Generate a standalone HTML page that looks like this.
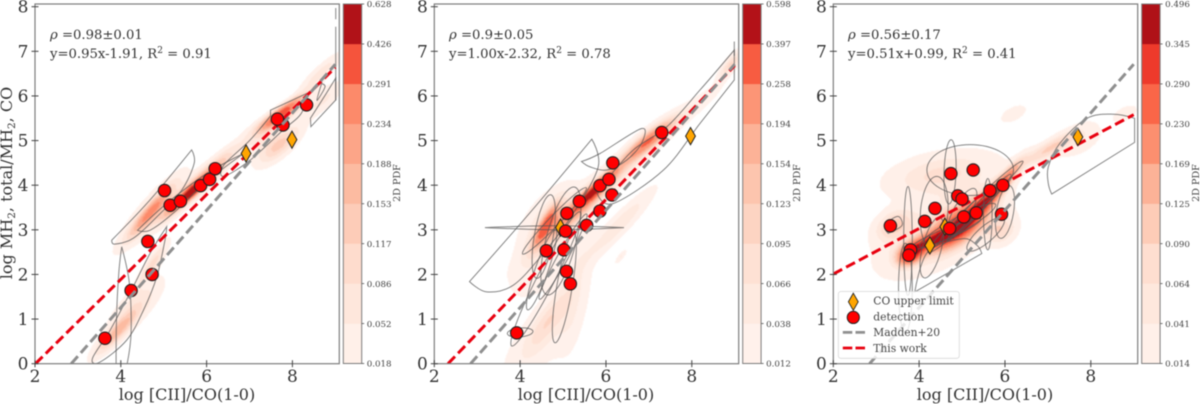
<!DOCTYPE html>
<html lang="en">
<head>
<meta charset="utf-8">
<title>log MH2 total/MH2 CO versus log [CII]/CO(1-0)</title>
<style>
  html, body { margin: 0; padding: 0; background: #fff; overflow: hidden; }
  svg { display: block; font-family: "DejaVu Serif", "Liberation Serif", serif; filter: blur(0.45px); }
  .tick { font-size: 17px; fill: #333; }
  .axis-label { font-size: 16px; fill: #333; }
  .note { font-size: 13.2px; fill: #333; }
  .cb-tick { font-size: 8.7px; fill: #444; }
  .cb-label { font-size: 9.6px; fill: #444; }
  .legend-text { font-size: 10.7px; fill: #444; }
</style>
</head>
<body>
<svg id="chart" xmlns="http://www.w3.org/2000/svg" width="1200" height="404" viewBox="0 0 1200 404">
  <defs>
    <filter id="soft" x="-5%" y="-5%" width="110%" height="110%"><feGaussianBlur stdDeviation="0.6"/></filter>
    <clipPath id="clip-1"><rect x="35" y="4" width="304.3" height="359.7"/></clipPath>
    <clipPath id="clip-2"><rect x="434.3" y="4" width="304.4" height="359.7"/></clipPath>
    <clipPath id="clip-3"><rect x="833.3" y="4" width="304.4" height="359.7"/></clipPath>
  </defs>

  <g id="panel-1"></g>
  <g id="panel-2"></g>
  <g id="panel-3"></g>

  <text class="axis-label" transform="translate(12,183) rotate(-90)" text-anchor="middle">log MH<tspan font-size="10.5" dy="3">2</tspan><tspan dy="-3">, total/MH</tspan><tspan font-size="10.5" dy="3">2</tspan><tspan dy="-3">, CO</tspan></text>

  <text class="axis-label" x="187" y="400" text-anchor="middle">log [CII]/CO(1-0)</text>
  <text class="axis-label" x="586" y="400" text-anchor="middle">log [CII]/CO(1-0)</text>
  <text class="axis-label" x="985" y="400" text-anchor="middle">log [CII]/CO(1-0)</text>

  <text class="note" x="50" y="39"><tspan font-style="italic">ρ</tspan> =0.98±0.01</text>
  <text class="note" x="50" y="58">y=0.95x-1.91, R<tspan font-size="9" dy="-5">2</tspan><tspan dy="5"> = 0.91</tspan></text>
  <text class="note" x="449" y="39"><tspan font-style="italic">ρ</tspan> =0.9±0.05</text>
  <text class="note" x="449" y="58">y=1.00x-2.32, R<tspan font-size="9" dy="-5">2</tspan><tspan dy="5"> = 0.78</tspan></text>
  <text class="note" x="848" y="39"><tspan font-style="italic">ρ</tspan> =0.56±0.17</text>
  <text class="note" x="848" y="58">y=0.51x+0.99, R<tspan font-size="9" dy="-5">2</tspan><tspan dy="5"> = 0.41</tspan></text>

  <text class="cb-label" transform="translate(400,183) rotate(-90)" text-anchor="middle">2D PDF</text>
  <text class="cb-label" transform="translate(800,183) rotate(-90)" text-anchor="middle">2D PDF</text>
  <text class="cb-label" transform="translate(1199,183) rotate(-90)" text-anchor="middle">2D PDF</text>

  <g>
    <rect x="838.3" y="291.5" width="121" height="66.8" rx="2.5" fill="#fff" fill-opacity="0.8" stroke="#d8d8d8" stroke-width="0.8"/>
    <polygon points="853.3,293.2 858.2,301.8 853.3,310.4 848.4,301.8" fill="#ffa500" stroke="#222" stroke-width="0.9"/>
    <circle cx="853.3" cy="317.4" r="6.1" fill="#ff0000" stroke="#222" stroke-width="1"/>
    <line x1="842.8" y1="332.4" x2="865" y2="332.4" stroke="#8f8f8f" stroke-width="2.8" stroke-dasharray="9.5 3.2"/>
    <line x1="842.8" y1="348" x2="865" y2="348" stroke="#e8000f" stroke-width="2.8" stroke-dasharray="9.5 3.2"/>
    <text class="legend-text" x="873.3" y="304.5">CO upper limit</text>
    <text class="legend-text" x="873.3" y="320.3">detection</text>
    <text class="legend-text" x="873.3" y="336">Madden+20</text>
    <text class="legend-text" x="873.3" y="351.8">This work</text>
  </g>
</svg>

<script>
/* ---------- shared axis data ---------- */
const xTickValues = [2, 4, 6, 8];
const yTickValues = [0, 1, 2, 3, 4, 5, 6, 7, 8];
const maddenFit = [1.09, -3.1];

/* ---------- panel 1 ---------- */
const panel1DetectionX = [3.63, 4.24, 4.63, 4.73, 5.02, 5.15, 5.39, 5.86, 6.07, 6.20, 7.78, 7.65, 8.33];
const panel1DetectionY = [0.57, 1.64, 2.74, 2.00, 3.88, 3.55, 3.64, 3.99, 4.13, 4.37, 5.35, 5.48, 5.80];
const panel1LimitX = [6.92, 7.99];
const panel1LimitY = [4.71, 5.02];
const panel1Fit = [0.95, -1.91];
const panel1Levels = [0.018, 0.052, 0.086, 0.117, 0.153, 0.188, 0.234, 0.291, 0.426, 0.628];
/* density components: x, y, long sigma, short sigma, angle, peak */
const panel1Density = [
  [5.65, 3.85, 0.36, 0.06, 40, 0.50],
  [5.75, 3.98, 0.75, 0.12, 42, 0.25],
  [4.70, 3.40, 0.50, 0.10, 48, 0.20],
  [4.70, 3.45, 0.68, 0.16, 48, 0.07],
  [3.90, 0.70, 0.45, 0.11, 45, 0.16],
  [4.35, 1.30, 0.55, 0.20, 45, 0.07],
  [4.75, 2.25, 0.38, 0.09, 55, 0.10],
  [7.70, 5.55, 0.36, 0.09, 32, 0.33],
  [8.00, 5.85, 0.35, 0.07, 32, 0.12],
  [8.65, 6.50, 0.45, 0.10, 42, 0.07],
  [7.30, 5.10, 0.32, 0.18, 40, 0.07],
  [7.70, 4.90, 0.40, 0.15, 40, 0.13],
  [8.70, 5.90, 0.40, 0.13, 40, 0.06]
];
/* outline vertices: x, y, corner flag */
const panel1Outlines = [
  [[3.79,2.77,1],[4.68,3.67],[5.65,4.79,1],[5.71,4.49],[5.42,3.89],[4.84,3.29],[4.29,2.81],[3.86,2.68]],
  [[4.39,2.99,1],[5.07,3.59],[6.00,4.26],[6.86,4.71,1],[6.00,4.08],[5.22,3.37],[4.68,2.99]],
  [[6.40,4.45],[7.00,5.00],[7.49,5.55,1],[7.49,5.68,1],[8.37,6.07,1],[8.20,5.60],[7.80,5.25],[7.00,4.55],[6.40,4.20]],
  [[8.43,5.31,1],[9.01,5.91,1],[9.01,6.40,1],[8.72,5.95],[8.42,5.50,1]],
  [[8.68,6.28],[8.76,6.20],[8.57,5.90],[8.68,6.28]],
  [[4.02,2.62,1],[4.20,1.80],[4.24,0.70],[4.15,0.00,1],[3.89,0.00,1],[3.90,1.00],[3.95,2.00]],
  [[5.07,3.07,1],[4.68,2.47],[4.25,1.65],[3.75,0.75],[3.34,0.12],[3.52,0.04],[4.14,0.53],[4.53,1.20],[4.84,1.95],[5.03,2.77]],
  [[9.01,5.90,1],[9.01,7.55,1]],
  [[9.01,7.72,1],[9.01,7.97,1]]
];
const panel1Ellipses = [];

/* ---------- panel 2 ---------- */
const panel2DetectionX = [3.92, 4.61, 5.02, 5.08, 5.17, 5.06, 5.09, 5.38, 5.55, 5.86, 5.86, 6.07, 6.14, 6.16, 7.30];
const panel2DetectionY = [0.69, 2.53, 2.55, 2.07, 1.79, 2.97, 3.37, 3.64, 3.10, 3.42, 3.99, 4.13, 3.78, 4.50, 5.18];
const panel2LimitX = [4.94, 7.97];
const panel2LimitY = [3.05, 5.10];
const panel2Fit = [1.00, -2.32];
const panel2Levels = [0.012, 0.038, 0.066, 0.095, 0.123, 0.154, 0.194, 0.258, 0.397, 0.598];
const panel2Density = [
  [5.75, 3.90, 0.35, 0.07, 42, 0.42],
  [5.60, 3.70, 0.90, 0.15, 42, 0.20],
  [4.60, 3.10, 0.35, 0.09, 60, 0.25],
  [4.75, 3.20, 0.55, 0.30, 50, 0.08],
  [7.00, 5.00, 0.50, 0.12, 38, 0.25],
  [8.90, 6.70, 0.25, 0.08, 50, 0.10],
  [8.00, 5.70, 0.60, 0.11, 38, 0.035],
  [4.65, 0.95, 0.55, 0.16, 55, 0.07],
  [4.50, 0.60, 0.90, 0.35, 50, 0.03],
  [5.15, 1.20, 0.70, 0.20, 85, 0.025],
  [4.40, 2.20, 0.60, 0.30, 50, 0.03],
  [5.40, 2.20, 0.70, 0.20, 75, 0.022],
  [6.30, 3.10, 0.70, 0.13, 45, 0.06],
  [6.35, 2.40, 0.12, 0.04, 50, 0.04]
];
const panel2Outlines = [
  [[2.82,1.84,1],[4.20,3.35],[5.67,5.03,1],[5.82,4.41],[5.24,3.37],[4.54,2.47],[3.84,1.76],[3.22,1.61]],
  [[8.99,7.03,1],[8.19,6.13],[7.42,5.31],[6.64,4.79],[6.02,4.12],[5.80,3.80,1],[6.17,3.59],[7.34,4.34],[8.19,5.38],[8.99,6.36,1]],
  [[3.18,3.05,1],[4.80,3.09],[6.42,3.05,1],[4.80,3.00]],
  [[5.43,4.53,1],[5.86,4.71],[6.83,5.27],[6.83,4.94],[6.48,4.56],[6.02,4.34],[5.63,4.41]],
  [[8.99,6.90,1],[8.99,7.22,1]]
];
/* ellipses: centre x, centre y, semi-major, semi-minor, angle */
const panel2Ellipses = [
  [4.55, 2.85, 0.95, 0.22, 80],
  [4.95, 2.75, 1.25, 0.35, 75],
  [4.80, 3.20, 1.05, 0.12, 45],
  [5.03, 1.70, 1.25, 0.18, 80],
  [4.60, 1.90, 1.70, 0.20, 62],
  [4.50, 2.10, 0.95, 0.15, 70],
  [4.00, 0.70, 0.30, 0.10, 5],
  [5.00, 2.40, 1.10, 0.12, 60]
];

/* ---------- panel 3 ---------- */
const panel3DetectionX = [3.33, 3.80, 3.76, 4.13, 4.37, 4.74, 5.26, 4.90, 5.00, 5.04, 5.33, 4.71, 5.65, 5.95, 5.92];
const panel3DetectionY = [3.09, 2.55, 2.43, 3.19, 3.48, 4.26, 4.34, 3.76, 3.69, 3.29, 3.38, 3.03, 3.88, 4.00, 3.35];
const panel3LimitX = [4.25, 4.60, 7.70];
const panel3LimitY = [2.65, 3.07, 5.08];
const panel3Fit = [0.51, 0.99];
const panel3Levels = [0.014, 0.041, 0.064, 0.090, 0.125, 0.169, 0.230, 0.290, 0.345, 0.496];
const panel3Density = [
  [4.95, 3.10, 0.50, 0.22, 35, 0.30],
  [4.30, 2.75, 0.40, 0.12, 20, 0.25],
  [3.80, 2.45, 0.20, 0.13, 30, 0.35],
  [5.50, 3.60, 0.50, 0.11, 45, 0.25],
  [6.00, 4.10, 0.40, 0.09, 50, 0.15],
  [4.50, 3.00, 1.00, 0.45, 30, 0.07],
  [4.50, 4.25, 0.80, 0.30, 10, 0.07],
  [3.40, 3.10, 0.30, 0.20, 30, 0.09],
  [5.90, 3.00, 0.25, 0.20, 30, 0.08],
  [7.00, 4.80, 0.50, 0.11, 30, 0.09],
  [7.70, 5.00, 0.40, 0.20, 25, 0.04],
  [8.80, 5.60, 0.20, 0.10, 25, 0.04],
  [6.20, 5.60, 0.25, 0.12, 25, 0.03]
];
const panel3Outlines = [
  [[7.09,3.80,1],[9.02,4.96,1],[9.02,5.50,1],[8.53,5.59],[7.91,5.50],[7.28,4.94],[7.01,4.41],[7.01,4.04]],
  [[3.90,1.61,1],[5.46,2.47,1],[5.34,2.66],[5.00,2.80],[4.20,2.50]],
  [[3.28,2.92,1],[3.60,3.10],[3.50,3.30],[3.20,3.10]]
];
const panel3Ellipses = [
  [5.19, 4.34, 1.01, 0.57, 0],
  [4.72, 4.30, 0.72, 0.14, 88],
  [3.74, 2.75, 1.22, 0.10, 90],
  [3.68, 1.70, 1.00, 0.16, 90],
  [4.35, 3.40, 0.80, 0.32, 85],
  [4.90, 3.10, 1.00, 0.17, 28],
  [5.10, 3.30, 1.20, 0.14, 42],
  [5.40, 3.50, 1.05, 0.10, 45],
  [4.60, 2.90, 0.90, 0.12, 22],
  [5.00, 3.40, 0.60, 0.20, 60],
  [5.60, 3.35, 0.80, 0.10, 90],
  [6.00, 3.40, 0.60, 0.20, 80],
  [5.55, 2.90, 0.55, 0.18, 40],
  [5.60, 3.80, 1.10, 0.10, 42],
  [4.30, 2.60, 0.70, 0.22, 75]
];

/* ---------- drawing ---------- */
const SVG_NS = 'http://www.w3.org/2000/svg';
const redsAnchors = [[255,245,240],[254,224,210],[252,187,161],[252,146,114],[251,106,74],[239,59,44],[203,24,29],[165,15,21],[103,0,13]];

function reds(t) {
  const p = Math.max(0, Math.min(1, t)) * (redsAnchors.length - 1);
  const i = Math.min(redsAnchors.length - 2, Math.floor(p));
  const f = p - i;
  const c = redsAnchors[i].map((v, k) => Math.round(v + (redsAnchors[i + 1][k] - v) * f));
  return 'rgb(' + c.join(',') + ')';
}

function make(tag, parent, attrs) {
  const node = document.createElementNS(SVG_NS, tag);
  for (const key in attrs) node.setAttribute(key, attrs[key]);
  parent.appendChild(node);
  return node;
}

function makeAxes(left, right, top, bottom) {
  const xUnit = (right - left) / 7.093;
  const yUnit = (bottom - 6.7) / 8;
  return {
    x: v => left + (v - 2) * xUnit,
    y: v => bottom - v * yUnit,
    left, right, top, bottom
  };
}

function densityAt(components, px, py) {
  let sum = 0;
  for (const c of components) {
    const a = c[4] * Math.PI / 180;
    const dx = px - c[0], dy = py - c[1];
    const u = dx * Math.cos(a) + dy * Math.sin(a);
    const v = -dx * Math.sin(a) + dy * Math.cos(a);
    sum += c[5] * Math.exp(-0.5 * (u * u / (c[2] * c[2]) + v * v / (c[3] * c[3])));
  }
  return sum;
}

function drawDensity(group, axes, components, levels) {
  const x0 = Math.floor(axes.left), x1 = Math.ceil(axes.right);
  const y0 = Math.floor(axes.top), y1 = Math.ceil(axes.bottom);
  const xUnit = axes.x(3) - axes.x(2), yUnit = axes.y(0) - axes.y(1);
  const width = x1 - x0, height = y1 - y0;
  const grid = new Float32Array(width * height);
  for (let r = 0; r < height; r++) {
    for (let c = 0; c < width; c++) {
      const dataX = 2 + (x0 + c + 0.5 - axes.x(2)) / xUnit;
      const dataY = (axes.y(0) - (y0 + r + 0.5)) / yUnit;
      grid[r * width + c] = densityAt(components, dataX, dataY);
    }
  }
  const lo = levels[0], hi = levels[levels.length - 1];
  for (let b = 0; b < levels.length - 1; b++) {
    let d = '';
    for (let r = 0; r < height; r++) {
      let start = -1;
      for (let c = 0; c <= width; c++) {
        const on = c < width && grid[r * width + c] >= levels[b];
        if (on && start < 0) start = c;
        if (!on && start >= 0) {
          d += 'M' + (x0 + start) + ' ' + (y0 + r) + 'H' + (x0 + c) + 'V' + (y0 + r + 1) + 'H' + (x0 + start) + 'Z';
          start = -1;
        }
      }
    }
    const mid = (levels[b] + levels[b + 1]) / 2;
    const band = make('path', group, { d: d, fill: reds((mid - lo) / (hi - lo)) });
    
    
  }
}

function outlinePath(axes, points) {
  const pts = points.map(p => [axes.x(p[0]), axes.y(p[1]), p[2]]);
  const n = pts.length;
  if (n === 2) return 'M' + pts[0][0] + ' ' + pts[0][1] + 'L' + pts[1][0] + ' ' + pts[1][1];
  let d = 'M' + pts[0][0].toFixed(1) + ' ' + pts[0][1].toFixed(1);
  for (let i = 0; i < n; i++) {
    const p0 = pts[(i - 1 + n) % n], p1 = pts[i], p2 = pts[(i + 1) % n], p3 = pts[(i + 2) % n];
    const c1x = p1[2] ? p1[0] : p1[0] + (p2[0] - p0[0]) / 6;
    const c1y = p1[2] ? p1[1] : p1[1] + (p2[1] - p0[1]) / 6;
    const c2x = p2[2] ? p2[0] : p2[0] - (p3[0] - p1[0]) / 6;
    const c2y = p2[2] ? p2[1] : p2[1] - (p3[1] - p1[1]) / 6;
    d += 'C' + c1x.toFixed(1) + ' ' + c1y.toFixed(1) + ' ' + c2x.toFixed(1) + ' ' + c2y.toFixed(1) + ' ' + p2[0].toFixed(1) + ' ' + p2[1].toFixed(1);
  }
  return d + 'Z';
}

function ellipseVertices(spec) {
  const verts = [];
  const a = spec[4] * Math.PI / 180;
  for (let i = 0; i < 16; i++) {
    const t = i / 16 * 2 * Math.PI;
    const u = spec[2] * Math.cos(t), v = spec[3] * Math.sin(t);
    verts.push([spec[0] + u * Math.cos(a) - v * Math.sin(a), spec[1] + u * Math.sin(a) + v * Math.cos(a)]);
  }
  return verts;
}

function drawPanel(index, axes, data) {
  const root = document.getElementById('panel-' + index);

  const densityGroup = make('g', root, { filter: 'url(#soft)', 'clip-path': 'url(#clip-' + index + ')' });
  
  
  drawDensity(densityGroup, axes, data.density, data.levels);

  const outlineGroup = make('g', root, { 'clip-path': 'url(#clip-' + index + ')', fill: 'none', stroke: '#555', 'stroke-opacity': '0.72', 'stroke-width': '1' });
  
  
  for (const verts of data.outlines) {
    const shape = make('path', outlineGroup, { d: outlinePath(axes, verts) });
    
    
  }
  for (const spec of data.ellipses) {
    const shape = make('path', outlineGroup, { d: outlinePath(axes, ellipseVertices(spec)) });
    
    
  }

  const clipId = 'url(#clip-' + index + ')';
  const fitStart = Math.max(2, -data.fit[1] / data.fit[0]);
  const red = make('line', root, { x1: axes.x(fitStart), y1: axes.y(data.fit[0] * fitStart + data.fit[1]), x2: axes.x(9), y2: axes.y(data.fit[0] * 9 + data.fit[1]), stroke: '#e8000f', 'stroke-width': '3', 'stroke-dasharray': '10 4.5', 'clip-path': clipId });
  
  

  data.limitX.forEach((v, i) => {
    const cx = axes.x(v), cy = axes.y(data.limitY[i]);
    const pts = [[cx, cy - 8.6], [cx + 4.9, cy], [cx, cy + 8.6], [cx - 4.9, cy]].map(p => p.join(',')).join(' ');
    const mark = make('polygon', root, { points: pts, fill: '#ffa500', stroke: '#222', 'stroke-width': '1' });
    
    
  });
  data.detX.forEach((v, i) => {
    const mark = make('circle', root, { cx: axes.x(v), cy: axes.y(data.detY[i]), r: '6.2', fill: '#ff0000', stroke: '#222', 'stroke-width': '1.1' });
    
    
  });

  const maddenStart = -maddenFit[1] / maddenFit[0];
  const gray = make('line', root, { x1: axes.x(maddenStart), y1: axes.y(0), x2: axes.x(9), y2: axes.y(maddenFit[0] * 9 + maddenFit[1]), stroke: '#8f8f8f', 'stroke-width': '3', 'stroke-dasharray': '10 4.5', 'clip-path': clipId });
  
  

  const frame = make('rect', root, { x: axes.left, y: axes.top, width: axes.right - axes.left, height: axes.bottom - axes.top, fill: 'none', stroke: '#7c7c7c', 'stroke-width': '1.2' });
  
  

  xTickValues.forEach(v => {
    const mark = make('line', root, { x1: axes.x(v), x2: axes.x(v), y1: axes.bottom - 3.5, y2: axes.bottom + 3.5, stroke: '#444', 'stroke-width': '1' });
    
    
    const label = make('text', root, { x: axes.x(v), y: 382, class: 'tick', 'text-anchor': 'middle' });
    
    
    label.textContent = String(v);
  });
  yTickValues.forEach(v => {
    const mark = make('line', root, { x1: axes.left - 3.5, x2: axes.left + 3.5, y1: axes.y(v), y2: axes.y(v), stroke: '#444', 'stroke-width': '1' });
    
    
    const label = make('text', root, { x: axes.left - 6.5, y: axes.y(v) + 6, class: 'tick', 'text-anchor': 'end' });
    
    
    label.textContent = String(v);
  });

  /* colour bar: equal-height bands, one per level interval */
  const barLeft = axes.right + 4, barRight = axes.right + 22.4, barTop = 4, barBottom = 363.5;
  const bands = data.levels.length - 1;
  const bandHeight = (barBottom - barTop) / bands;
  const lo = data.levels[0], hi = data.levels[bands];
  for (let b = 0; b < bands; b++) {
    const mid = (data.levels[b] + data.levels[b + 1]) / 2;
    const swatch = make('rect', root, { x: barLeft, y: barBottom - (b + 1) * bandHeight, width: barRight - barLeft, height: bandHeight + 0.2, fill: reds((mid - lo) / (hi - lo)) });
    
    
  }
  const barFrame = make('rect', root, { x: barLeft, y: barTop, width: barRight - barLeft, height: barBottom - barTop, fill: 'none', stroke: '#7c7c7c', 'stroke-width': '1' });
  
  
  data.levels.forEach((v, b) => {
    const y = barBottom - b * bandHeight;
    const mark = make('line', root, { x1: barRight, x2: barRight + 2.5, y1: y, y2: y, stroke: '#555', 'stroke-width': '0.8' });
    
    
    const label = make('text', root, { x: barRight + 5, y: y + 3.2, class: 'cb-tick' });
    
    
    label.textContent = v.toFixed(3);
  });
}

drawPanel(1, makeAxes(35, 339.3, 4, 363.7), {
  detX: panel1DetectionX, detY: panel1DetectionY, limitX: panel1LimitX, limitY: panel1LimitY,
  fit: panel1Fit, levels: panel1Levels, density: panel1Density, outlines: panel1Outlines, ellipses: panel1Ellipses
});
drawPanel(2, makeAxes(434.3, 738.7, 4, 363.7), {
  detX: panel2DetectionX, detY: panel2DetectionY, limitX: panel2LimitX, limitY: panel2LimitY,
  fit: panel2Fit, levels: panel2Levels, density: panel2Density, outlines: panel2Outlines, ellipses: panel2Ellipses
});
drawPanel(3, makeAxes(833.3, 1137.7, 4, 363.7), {
  detX: panel3DetectionX, detY: panel3DetectionY, limitX: panel3LimitX, limitY: panel3LimitY,
  fit: panel3Fit, levels: panel3Levels, density: panel3Density, outlines: panel3Outlines, ellipses: panel3Ellipses
});
</script>
</body>
</html>
